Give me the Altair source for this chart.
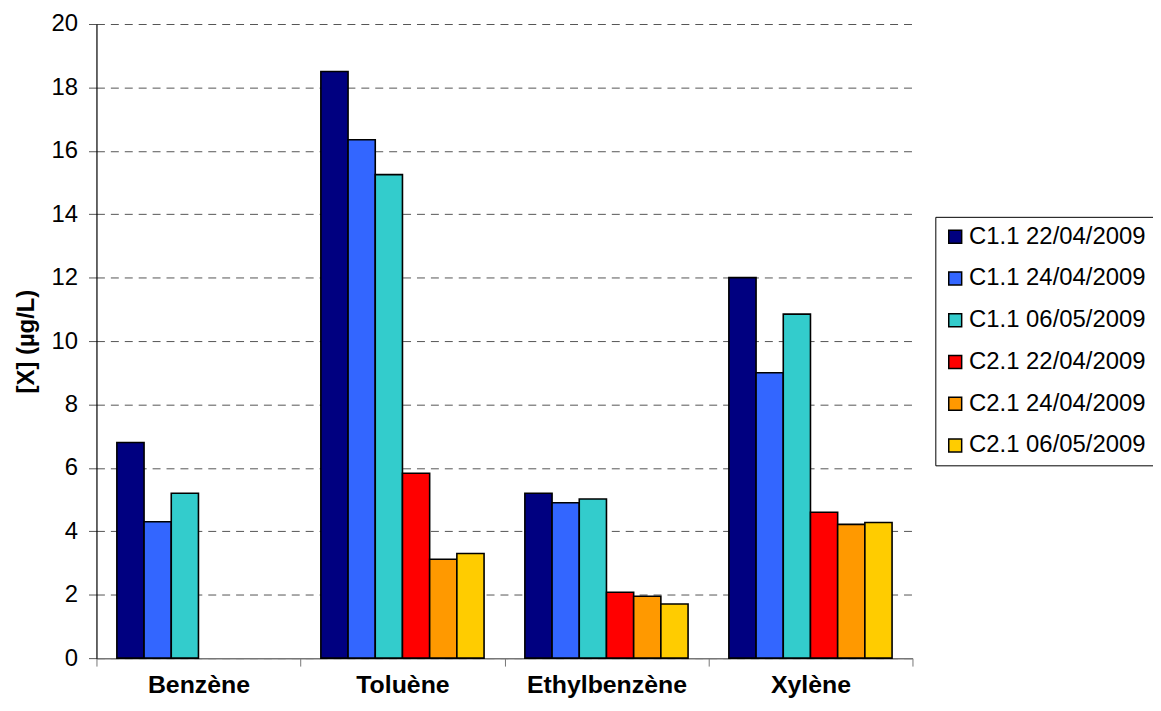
import altair as alt
import pandas as pd

categories = ["Benzène", "Toluène", "Ethylbenzène", "Xylène"]
series = [
    "C1.1 22/04/2009",
    "C1.1 24/04/2009",
    "C1.1 06/05/2009",
    "C2.1 22/04/2009",
    "C2.1 24/04/2009",
    "C2.1 06/05/2009",
]
c11_2204 = [6.8, 18.5, 5.2, 12.0]
c11_2404 = [4.3, 16.35, 4.9, 9.0]
c11_0605 = [5.2, 15.25, 5.02, 10.85]
c21_2204 = [None, 5.83, 2.08, 4.6]
c21_2404 = [None, 3.12, 1.95, 4.22]
c21_0605 = [None, 3.3, 1.71, 4.28]
colors = ["#000080", "#3366FF", "#33CCCC", "#FF0000", "#FF9900", "#FFCC00"]
y_ticks = [0, 2, 4, 6, 8, 10, 12, 14, 16, 18, 20]

values = [c11_2204, c11_2404, c11_0605, c21_2204, c21_2404, c21_0605]
rows = []
for s, vals in zip(series, values):
    for c, v in zip(categories, vals):
        if v is not None:
            rows.append({"category": c, "series": s, "value": v})
df = pd.DataFrame(rows)

FONT = "Liberation Sans"

chart = (
    alt.Chart(df)
    .mark_bar(stroke="black", strokeWidth=1.6)
    .encode(
        x=alt.X(
            "category:N",
            sort=categories,
            scale=alt.Scale(domain=categories, paddingInner=0, paddingOuter=0),
            axis=alt.Axis(
                title=None,
                labelAngle=0,
                tickBand="extent",
                labelFontWeight="bold",
                labelFontSize=25,
                labelColor="black",
                labelLimit=0,
                tickSize=8,
                labelPadding=7,
                domainColor="#777777",
                tickColor="#777777",
                domainWidth=1.5,
                grid=False,
            ),
        ),
        xOffset=alt.XOffset(
            "series:N",
            sort=series,
            scale=alt.Scale(domain=series, paddingInner=0, paddingOuter=0.75),
        ),
        y=alt.Y(
            "value:Q",
            scale=alt.Scale(domain=[0, 20], nice=False),
            axis=alt.Axis(
                values=y_ticks,
                title="[X] (µg/L)",
                titleFontSize=24,
                titleFontWeight="bold",
                titleColor="black",
                titlePadding=13,
                labelFontSize=24,
                labelColor="black",
                labelPadding=11,
                tickSize=8,
                tickColor="#555555",
                domainColor="black",
                domainWidth=1.2,
                grid=True,
                gridDash=[8, 6],
                gridColor="#555555",
                gridWidth=1,
            ),
        ),
        color=alt.Color(
            "series:N",
            sort=series,
            scale=alt.Scale(domain=series, range=colors),
            legend=alt.Legend(
                title=None,
                orient="none",
                legendX=844,
                legendY=194,
                strokeColor="black",
                fillColor="white",
                padding=8,
                symbolType="square",
                symbolSize=169,
                symbolStrokeColor="black",
                symbolStrokeWidth=1.5,
                symbolOpacity=1,
                labelFontSize=24,
                labelColor="black",
                labelLimit=0,
                labelOffset=2,
                rowPadding=18,
            ),
        ),
    )
    .properties(
        width=821,
        height=638,
        autosize=alt.AutoSizeParams(type="none"),
        padding={"left": 89, "top": 14, "right": 242, "bottom": 40},
    )
    .configure(font=FONT)
    .configure_view(stroke=None)
)

chart.save("out.html", embed_options={"renderer": "svg", "actions": False})
